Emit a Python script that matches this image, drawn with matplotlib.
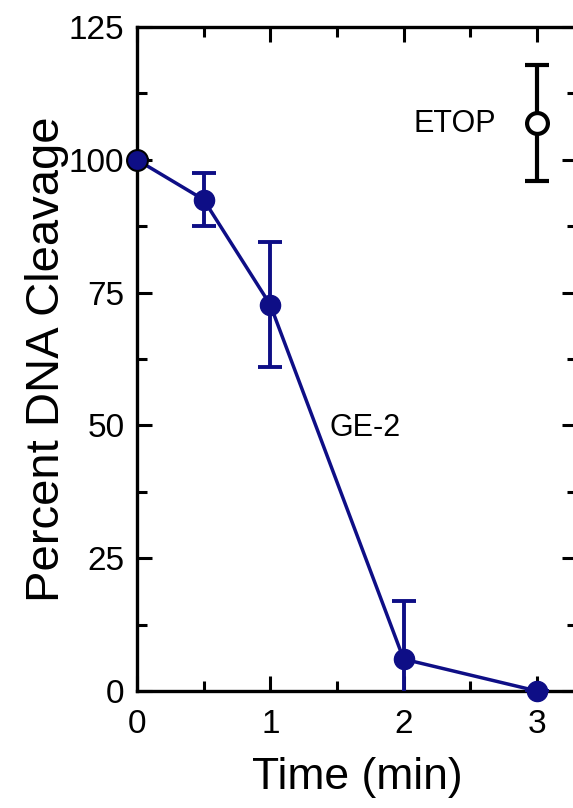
import matplotlib
matplotlib.use("Agg")
import matplotlib.pyplot as plt
from matplotlib.ticker import MultipleLocator

plt.rcParams['font.family'] = ['Liberation Sans', 'DejaVu Sans']

# GE-2 time course
time_ge2 = [0, 0.5, 1, 2, 3]
cleavage_ge2 = [100, 92.5, 72.7, 6.0, 0]
err_ge2 = [0, 5.0, 11.8, 11.0, 0]

# ETOP reference point
time_etop = [3]
cleavage_etop = [107]
err_etop = [10.9]

navy = '#0e0e86'

fig = plt.figure(figsize=(5.73, 8.08), dpi=100)
ax = fig.add_axes([0.239, 0.1448, 0.768, 0.8218])

# error bars clipped at the axes, markers drawn on top unclipped
ax.errorbar(time_ge2, cleavage_ge2, yerr=err_ge2, color=navy, lw=2.5,
            capsize=8.5, capthick=2.8, elinewidth=2.8, zorder=3)
ax.plot(time_ge2, cleavage_ge2, 'o', ms=14.5, mfc=navy, mec=navy,
        clip_on=False, zorder=4)
ax.plot(time_ge2[:1], cleavage_ge2[:1], 'o', ms=15, mfc=navy, mec='black',
        mew=1.5, clip_on=False, zorder=5)
ax.errorbar(time_etop, cleavage_etop, yerr=err_etop, color='black', lw=2.5,
            marker='o', ms=15, mfc='white', mec='black', mew=3,
            capsize=8.5, capthick=3, elinewidth=3, linestyle='none',
            zorder=3)

ax.text(1.71, 49.5, 'GE-2', fontsize=22, ha='center', va='center')
ax.text(2.38, 106.8, 'ETOP', fontsize=22, ha='center', va='center')

ax.set_xlim(0, 3.3)
ax.set_ylim(0, 125)
ax.xaxis.set_major_locator(MultipleLocator(1))
ax.xaxis.set_minor_locator(MultipleLocator(0.5))
ax.yaxis.set_major_locator(MultipleLocator(25))
ax.yaxis.set_minor_locator(MultipleLocator(12.5))
ax.tick_params(which='both', direction='in', top=True, right=True,
               width=2.2, labelsize=24)
ax.tick_params(axis='x', pad=13)
ax.tick_params(axis='y', pad=9)
ax.tick_params(which='major', length=11)
ax.tick_params(which='minor', length=7)
for s in ax.spines.values():
    s.set_linewidth(2.4)

ax.set_xlabel('Time (min)', fontsize=32, labelpad=12)
ax.set_ylabel('Percent DNA Cleavage', fontsize=34, labelpad=0)

fig.savefig('out.png', dpi=100)
